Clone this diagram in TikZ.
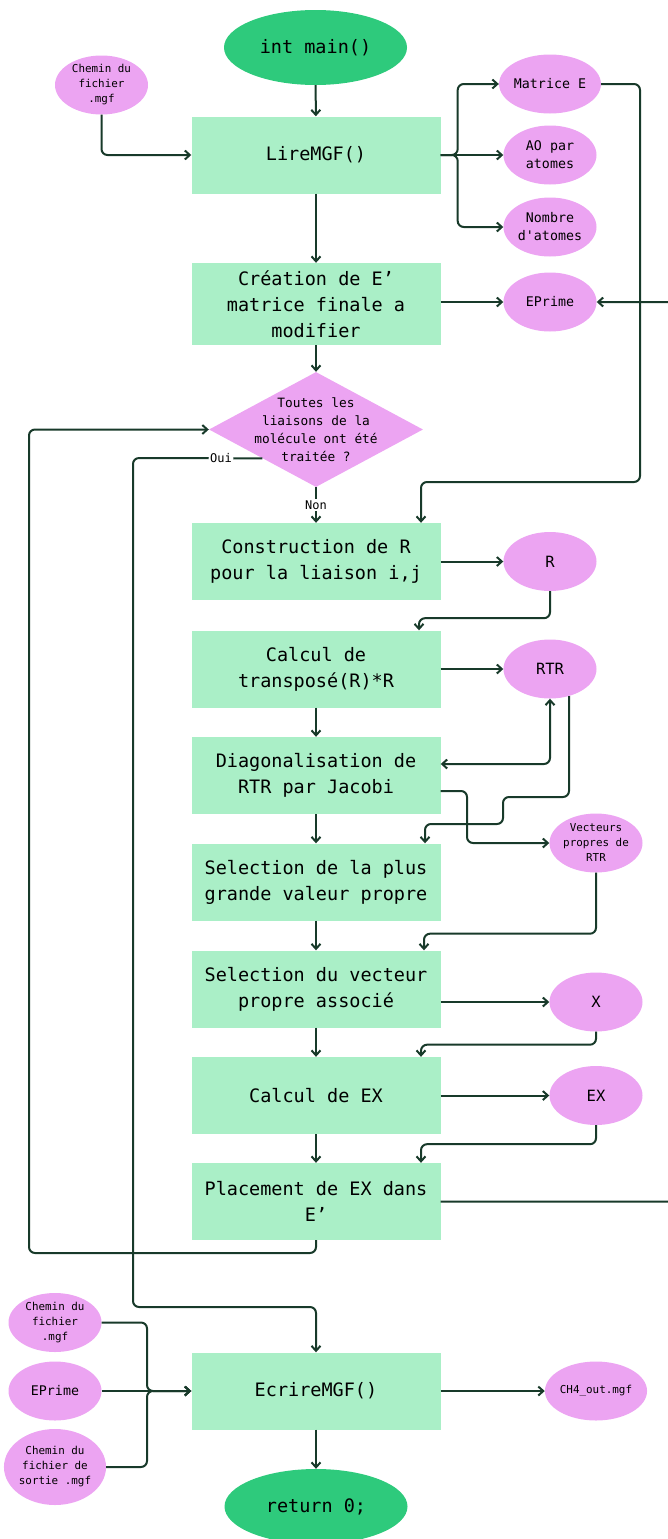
\documentclass[tikz,border=0pt]{standalone}
\usepackage{fontspec}
\setmonofont{DejaVu Sans Mono}
\usetikzlibrary{arrows.meta,shapes.geometric}

\definecolor{boxgreen}{RGB}{170,239,199}
\definecolor{datapink}{RGB}{236,164,242}
\definecolor{termgreen}{RGB}{46,202,124}
\definecolor{linegreen}{RGB}{24,58,42}

\tikzset{
    process/.style={rectangle, fill=boxgreen, minimum width=249pt, minimum height=77pt,
        align=center, text=black, font=\ttfamily\fontsize{18.5}{26}\selectfont},
    data/.style={ellipse, fill=datapink, minimum width=93pt, minimum height=59pt,
        inner sep=0pt, align=center, text=black, font=\ttfamily\fontsize{13.3}{18}\selectfont},
    smalldata/.style={data, font=\ttfamily\fontsize{10.9}{15}\selectfont},
    bigdata/.style={data, font=\ttfamily\fontsize{15.5}{20}\selectfont},
    terminal/.style={ellipse, fill=termgreen, minimum width=183pt, minimum height=75pt,
        inner sep=0pt, text=black, font=\ttfamily\fontsize{18.5}{26}\selectfont},
    decision/.style={diamond, fill=datapink, minimum width=214pt, minimum height=115pt, inner sep=0pt},
    decisiontext/.style={align=center, text=black, font=\ttfamily\fontsize{12.8}{18}\selectfont},
    flow/.style={draw=linegreen, line width=2pt, rounded corners=6pt,
        -{Straight Barb[length=5pt,width=9pt]}},
    twoway/.style={flow, {Straight Barb[length=5pt,width=9pt]}-{Straight Barb[length=5pt,width=9pt]}},
    answer/.style={fill=white, inner sep=1.5pt, text=black, font=\ttfamily\fontsize{12}{14}\selectfont}
}

\begin{document}
\begin{tikzpicture}[x=1pt, y=-1pt]
    \useasboundingbox (0,0) rectangle (667,1539);

    \node[terminal] (main) at (315.5,47.5) {int main()};
    \node[smalldata] (chemin) at (101.5,85) {Chemin du\\fichier\\.mgf};
    \node[process] (lire) at (316,155) {LireMGF()};
    \node[data] (matE) at (550,84) {Matrice E};
    \node[data] (aopar) at (550,155) {AO par\\atomes};
    \node[data] (nbat) at (550,227) {Nombre\\d'atomes};
    \node[process, minimum height=82pt] (creation) at (316,304) {Création de E’\\matrice finale a\\modifier};
    \node[data] (eprime) at (550,302) {EPrime};
    \node[decision] (test) at (316,429.5) {};
    \node[decisiontext] (testtxt) at (test) {Toutes les\\liaisons de la\\molécule ont été\\traitée ?};
    \node[process] (constr) at (316,561.5) {Construction de R\\pour la liaison i,j};
    \node[bigdata] (rmat) at (550,561.5) {R};
    \node[process] (calcul) at (316,669) {Calcul de\\transposé(R)*R};
    \node[bigdata] (rtr) at (550,669) {RTR};
    \node[process] (diago) at (316,775.5) {Diagonalisation de\\RTR par Jacobi};
    \node[smalldata] (vecp) at (596,843) {Vecteurs\\propres de\\RTR};
    \node[process] (selval) at (316,882) {Selection de la plus\\grande valeur propre};
    \node[process] (selvec) at (316,989) {Selection du vecteur\\propre associé};
    \node[bigdata] (xvec) at (596,1002) {X};
    \node[process] (calcex) at (316,1095.5) {Calcul de EX};
    \node[bigdata] (exvec) at (596,1095.5) {EX};
    \node[process] (place) at (316,1201.5) {Placement de EX dans\\E’};
    \node[smalldata] (cheminin) at (55,1322.5) {Chemin du\\fichier\\.mgf};
    \node[data] (eprimein) at (55,1391) {EPrime};
    \node[smalldata, minimum height=76pt] (cheminout) at (55,1467) {Chemin du\\fichier de\\sortie .mgf};
    \node[process] (ecrire) at (316,1391) {EcrireMGF()};
    \node[smalldata] (outfile) at (596,1391) {CH4\_out.mgf};
    \node[terminal] (ret) at (316,1506.5) {return 0;};

    \draw[flow] (main) -- (lire);
    \draw[flow] (chemin) |- (lire);
    \draw[flow] (lire.east) -- ++(17,0) |- (matE);
    \draw[flow] (lire.east) -- (aopar);
    \draw[flow] (lire.east) -- ++(17,0) |- (nbat);
    \draw[flow] (matE.east) -| (640,482) -| ([xshift=105pt]constr.north);
    \draw[flow] (lire) -- (creation);
    \draw[flow] (creation.east |- eprime) -- (eprime);
    \draw[flow] (creation) -- (test);
    \draw[flow] (test) -- node[answer] {Non} (constr);
    \draw[flow] (test.south west) -- node[answer, pos=0.32] {Oui} (133,458) |- (316,1307) -- (ecrire);
    \draw[flow] (place) |- (29,1253) |- (test);
    \draw[flow] (constr) -- (rmat);
    \draw[flow] (rmat.south) -- ++(0,27) -| ([xshift=103pt]calcul.north);
    \draw[flow] (calcul) -- (rtr);
    \draw[flow] (calcul) -- (diago);
    \draw[twoway] ([yshift=11.5pt]diago.east) -| (rtr);
    \draw[flow] (rtr.-55) |- (503,797) |- (425,824) -- ([xshift=109pt]selval.north);
    \draw[flow] ([yshift=-15.5pt]diago.east) -| (467,843) -- (vecp);
    \draw[flow] (diago) -- (selval);
    \draw[flow] (vecp.south) -- ++(0,61) -| ([xshift=108pt]selvec.north);
    \draw[flow] (selval) -- (selvec);
    \draw[flow] (selvec.east |- xvec) -- (xvec);
    \draw[flow] (xvec.south) -- ++(0,13) -| ([xshift=105pt]calcex.north);
    \draw[flow] (selvec) -- (calcex);
    \draw[flow] (calcex) -- (exvec);
    \draw[flow] (exvec.south) -- ++(0,19) -| ([xshift=105pt]place.north);
    \draw[flow] (calcex) -- (place);
    \draw[flow] (place.east) -- (685,1201.5) |- (eprime);
    \draw[flow] (cheminin) -| (147,1391) -- (ecrire);
    \draw[flow] (eprimein) -- (ecrire);
    \draw[flow] (cheminout) -| (147,1391) -- (ecrire);
    \draw[flow] (ecrire) -- (outfile);
    \draw[flow] (ecrire) -- (ret);
\end{tikzpicture}
\end{document}
